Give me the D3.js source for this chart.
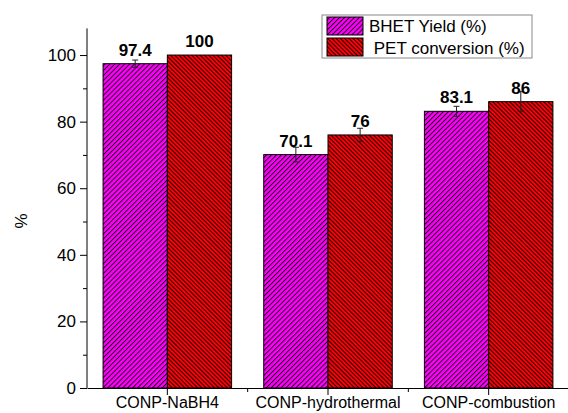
<!DOCTYPE html>
<html>
<head>
<meta charset="utf-8">
<script src="https://cdn.jsdelivr.net/npm/d3@7"></script>
<style>
  html, body { margin: 0; padding: 0; background: #fff; }
  svg { display: block; }
  text { font-family: Arial, "Liberation Sans", sans-serif; }
</style>
</head>
<body>
<svg id="chart" width="568" height="413"></svg>
<script>
// Catalyst preparation routes
const categories = ["CONP-NaBH4", "CONP-hydrothermal", "CONP-combustion"];
// BHET yield and PET conversion, %
const bhetYield = [97.4, 70.1, 83.1];
const petConversion = [100, 76, 86];
// Standard deviations for the error bars
const bhetErr = [1.1, 2.2, 1.5];
const petErr = [0, 2.0, 3.0];
const seriesNames = ["BHET Yield (%)", " PET conversion (%)"];
const yMajorTicks = [0, 20, 40, 60, 80, 100];
const yMinorTicks = [10, 30, 50, 70, 90];

const svg = d3.select("#chart");
const x0 = 87, x1 = 569, yBase = 388;

const x = d3.scaleBand().domain(categories).range([x0, x1]).padding(0);
const y = d3.scaleLinear().domain([0, 108]).range([yBase, 28.4]);
const barW = x.bandwidth() * 0.4;

// Hatch fills
const defs = svg.append("defs");
function hatch(id, fill, gap, angle) {
  const p = defs.append("pattern")
    .attr("id", id).attr("patternUnits", "userSpaceOnUse")
    .attr("width", gap).attr("height", gap)
    .attr("patternTransform", `rotate(${angle})`);
  p.append("rect").attr("width", gap).attr("height", gap).attr("fill", fill);
  p.append("line").attr("x1", 0.5).attr("y1", 0).attr("x2", 0.5).attr("y2", gap)
    .attr("stroke", "#1a0010").attr("stroke-width", 1);
}
hatch("hatchMagenta", "#ff00ff", 3.5, 45);
hatch("hatchRed", "#ff0000", 3, -45);
const fills = ["url(#hatchMagenta)", "url(#hatchRed)"];

const series = [
  { name: seriesNames[0], values: bhetYield, err: bhetErr, offset: -1 },
  { name: seriesNames[1], values: petConversion, err: petErr, offset: 0 }
];

// Bars
series.forEach((s, si) => {
  const g = svg.append("g");
  g.selectAll("rect").data(categories).join("rect")
    .attr("x", (c) => x(c) + x.bandwidth() / 2 + s.offset * barW)
    .attr("y", (c, i) => y(s.values[i]))
    .attr("width", barW)
    .attr("height", (c, i) => y(0) - y(s.values[i]))
    .attr("fill", fills[si])
    .attr("stroke", "#000").attr("stroke-width", 1);
});

// Error bars
series.forEach((s) => {
  const g = svg.append("g").attr("stroke", "#222").attr("stroke-width", 1);
  categories.forEach((c, i) => {
    if (!s.err[i]) return;
    const cx = x(c) + x.bandwidth() / 2 + s.offset * barW + barW / 2;
    const top = y(s.values[i] + s.err[i]);
    const bot = y(s.values[i] - s.err[i]);
    g.append("line").attr("x1", cx).attr("x2", cx).attr("y1", top).attr("y2", bot);
    g.append("line").attr("x1", cx - 3).attr("x2", cx + 3).attr("y1", top).attr("y2", top);
    g.append("line").attr("x1", cx - 3).attr("x2", cx + 3).attr("y1", bot).attr("y2", bot);
  });
});

// Value labels
series.forEach((s) => {
  svg.append("g").selectAll("text").data(categories).join("text")
    .attr("x", (c) => x(c) + x.bandwidth() / 2 + s.offset * barW + barW / 2)
    .attr("y", (c, i) => y(s.values[i]) - 8)
    .attr("text-anchor", "middle")
    .attr("font-size", 17).attr("font-weight", "bold")
    .text((c, i) => d3.format("")(s.values[i]));
});

// Y axis
const yAxis = svg.append("g").attr("transform", `translate(${x0},0)`)
  .call(d3.axisLeft(y).tickValues(yMajorTicks).tickSize(7).tickPadding(4).tickSizeOuter(0));
yAxis.select(".domain").attr("stroke", "#000").attr("d", `M0,${y(108)}V${yBase}`);
yAxis.selectAll("text").attr("font-size", 17).attr("fill", "#000")
  .style("font-family", "Arial, 'Liberation Sans', sans-serif");
svg.append("g").attr("transform", `translate(${x0},0)`)
  .call(d3.axisLeft(y).tickValues(yMinorTicks).tickSize(4).tickFormat(""))
  .call((g) => g.select(".domain").remove());

// X axis: major ticks at group centres, minor ticks between groups
const xAxis = svg.append("g").attr("transform", `translate(0,${yBase})`)
  .call(d3.axisBottom(x).tickSize(7).tickPadding(2).tickSizeOuter(0));
xAxis.select(".domain").attr("stroke", "#000");
xAxis.selectAll("text").attr("font-size", 16).attr("fill", "#000")
  .style("font-family", "Arial, 'Liberation Sans', sans-serif");
svg.append("g").attr("stroke", "#000").selectAll("line")
  .data(categories.slice(1)).join("line")
  .attr("x1", (c) => x(c)).attr("x2", (c) => x(c))
  .attr("y1", yBase).attr("y2", yBase + 4);

// Y axis title
svg.append("text")
  .attr("transform", "translate(27,221) rotate(-90)")
  .attr("text-anchor", "middle").attr("font-size", 17)
  .text("%");

// Legend
const lg = svg.append("g");
lg.append("rect").attr("x", 322).attr("y", 15).attr("width", 210).attr("height", 43)
  .attr("fill", "#fff").attr("stroke", "#888").attr("stroke-width", 1);
series.forEach((s, i) => {
  lg.append("rect").attr("x", 327).attr("y", 17 + i * 21).attr("width", 36).attr("height", 18)
    .attr("fill", fills[i]).attr("stroke", "#000").attr("stroke-width", 1);
  lg.append("text").attr("x", 369).attr("y", 32 + i * 21.5)
    .attr("font-size", 17).attr("xml:space", "preserve").style("white-space", "pre")
    .text(s.name);
});
</script>
</body>
</html>
